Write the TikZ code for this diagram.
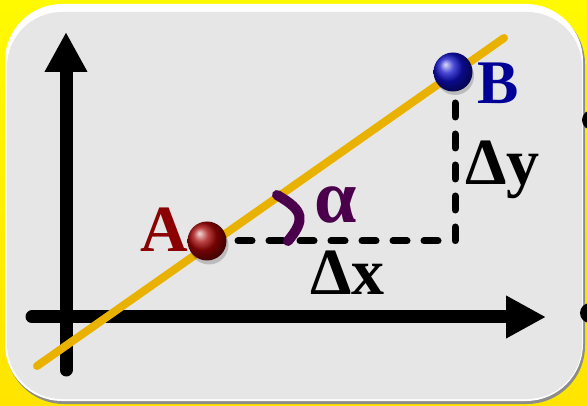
\documentclass[tikz,border=0pt]{standalone}
\usepackage{fontspec}
\setmainfont{Liberation Serif}
\usetikzlibrary{arrows.meta}
\definecolor{ytop}{RGB}{255,250,0}
\definecolor{ybot}{RGB}{255,228,0}
\definecolor{panel}{RGB}{230,230,230}
\definecolor{panelshadow}{RGB}{140,140,140}
\definecolor{lineorange}{RGB}{234,178,0}
\definecolor{angpurple}{RGB}{75,0,75}
\definecolor{adark}{RGB}{139,0,0}
\definecolor{bdark}{RGB}{0,0,150}
\definecolor{ballred}{RGB}{165,5,5}
\definecolor{ballblue}{RGB}{15,15,200}
\tikzset{
  axisline/.style={line width=13pt, line cap=round, -{Triangle[length=40pt 0 0,width=40pt 0 0]}},
  graphline/.style={lineorange, line width=8pt, line cap=round},
  dashline/.style={line width=7pt, line cap=round, line join=round, dash pattern=on 14pt off 17pt},
  anglemark/.style={angpurple, line width=10pt, line cap=round},
  pointball/.style={circle, minimum size=39pt, inner sep=0pt},
  biglabel/.style={anchor=base west, inner sep=0pt, font=\fontsize{66}{66}\selectfont\bfseries},
}
\begin{document}
\begin{tikzpicture}[x=1pt,y=-1pt]
\useasboundingbox (0,0) rectangle (587,406);
% background
\shade[top color=ytop, bottom color=ybot] (0,0) rectangle (587,406);
% panel
\fill[panelshadow, rounded corners=58pt] (6,6) rectangle (585,404);
\fill[white, rounded corners=57pt] (5,4) rectangle (583,401);
\fill[panel, rounded corners=55pt] (7,12) rectangle (582,399);
% side dots
\fill[black] (592,120) circle (10);
\fill[black] (590,313) circle (10);
% coordinates
\coordinate (yb) at (66,370);
\coordinate (yt) at (66,32);
\coordinate (xl) at (32,317);
\coordinate (xr) at (546,317);
\coordinate (l1) at (37,366);
\coordinate (l2) at (504,38);
\coordinate (a) at (207,241);
\coordinate (b) at (453,72);
\coordinate (c) at (455,241);
\coordinate (cb) at (455,72);
\coordinate (m1) at (277,195);
\coordinate (m2) at (288,241);
% axes
\draw[axisline] (yb) -- (yt);
\draw[axisline] (xl) -- (xr);
% dashed legs
\draw[dashline] (a) -- (c) -- (cb);
% graph line
\draw[graphline] (l1) -- (l2);
% angle mark
\draw[anglemark] (m1) .. controls (305,211) and (305,220) .. (m2);
% points
\fill[black, opacity=0.18] (209,245) circle (19.5);
\fill[black, opacity=0.18] (455,76) circle (19);
\node[pointball, ball color=ballred] (A) at (a) {};
\node[pointball, ball color=ballblue] (B) at (b) {};
% labels
\node[biglabel, adark] (la) at (140,252) {A};
\node[biglabel, bdark, font=\fontsize{62}{62}\selectfont\bfseries] (lb) at (477,104) {B};
\node[biglabel] (ldy) at (465,185) {Δy};
\node[biglabel] (ldx) at (310,295) {Δx};
\node[anchor=base west, inner sep=0pt, angpurple, font=\fontsize{76}{76}\selectfont\bfseries] (lal) at (314,223) {α};
\end{tikzpicture}
\end{document}
